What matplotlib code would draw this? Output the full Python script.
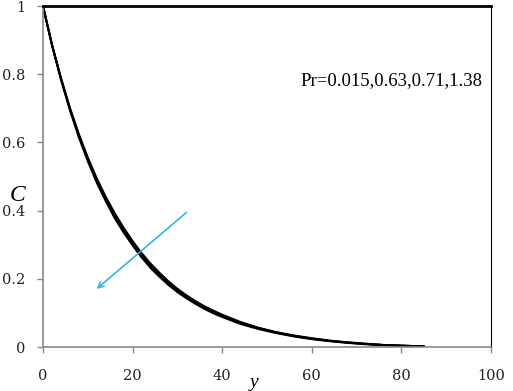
import matplotlib
matplotlib.use('Agg')
import matplotlib.pyplot as plt

# 四条浓度曲线
y_vals = [0, 2, 4, 6, 8, 10, 12, 14, 16, 18, 20, 22, 24, 26, 28, 30, 32, 34, 36, 38, 40,
          44, 48, 52, 56, 60, 64, 68, 72, 76, 80, 85]
c_pr1 = [1.0, 0.885, 0.785, 0.695, 0.615, 0.545, 0.482, 0.428, 0.378, 0.336, 0.298, 0.263, 0.232,
         0.206, 0.182, 0.161, 0.143, 0.127, 0.112, 0.099, 0.088, 0.068, 0.053, 0.041, 0.031, 0.023,
         0.017, 0.012, 0.008, 0.005, 0.003, 0.002]
c_pr2 = [1.0, 0.886, 0.787, 0.698, 0.619, 0.549, 0.487, 0.433, 0.384, 0.341, 0.303, 0.268, 0.237,
         0.210, 0.186, 0.165, 0.147, 0.130, 0.115, 0.102, 0.091, 0.070, 0.055, 0.042, 0.032, 0.024,
         0.018, 0.013, 0.009, 0.006, 0.004, 0.002]
c_pr3 = [1.0, 0.887, 0.788, 0.700, 0.622, 0.552, 0.490, 0.436, 0.388, 0.345, 0.307, 0.272, 0.241,
         0.214, 0.190, 0.168, 0.150, 0.133, 0.118, 0.105, 0.093, 0.072, 0.056, 0.043, 0.033, 0.025,
         0.018, 0.013, 0.009, 0.006, 0.004, 0.002]
c_pr4 = [1.0, 0.888, 0.790, 0.702, 0.625, 0.556, 0.495, 0.441, 0.393, 0.350, 0.311, 0.276, 0.245,
         0.218, 0.193, 0.171, 0.152, 0.135, 0.120, 0.107, 0.095, 0.074, 0.057, 0.044, 0.034, 0.026,
         0.019, 0.014, 0.010, 0.006, 0.004, 0.002]
curves = [c_pr1, c_pr2, c_pr3, c_pr4]

x_ticks = [0, 20, 40, 60, 80, 100]
y_ticks = [0, 0.2, 0.4, 0.6, 0.8, 1]
y_tick_labels = ['0', '0.2', '0.4', '0.6', '0.8', '1']

fig = plt.figure(figsize=(5.13, 3.91), dpi=100)
ax = fig.add_axes([0.0838, 0.1125, 0.873, 0.872])

for c in curves:
    ax.plot(y_vals, c, color='black', lw=1.4)

ax.set_xlim(0, 100)
ax.set_ylim(0, 1)
ax.set_xticks(x_ticks)
ax.set_xticklabels([str(t) for t in x_ticks])
ax.set_yticks(y_ticks)
ax.set_yticklabels(y_tick_labels)
ax.tick_params(direction='out', length=4, color='#888888', width=1,
               labelsize=10.5, labelcolor='#222222')
ax.tick_params(axis='x', pad=12)
ax.tick_params(axis='y', pad=9)
for lab in ax.get_xticklabels() + ax.get_yticklabels():
    lab.set_family('DejaVu Serif')

ax.spines['left'].set_color('#888888')
ax.spines['bottom'].set_color('#888888')
ax.spines['top'].set_color('black')
ax.spines['right'].set_color('black')
ax.spines['top'].set_linewidth(2)
ax.spines['left'].set_linewidth(1.2)
ax.spines['bottom'].set_linewidth(1.2)

# 箭头
ax.annotate('', xy=(11.5, 0.165), xytext=(32.5, 0.40),
            arrowprops=dict(arrowstyle='->', color='#33b5e5', lw=1.2))

ax.text(57.5, 0.78, 'Pr=0.015,0.63,0.71,1.38', fontsize=13.5,
        family='Liberation Serif', va='center')

fig.text(0.035, 0.5, 'C', fontsize=17, family='Liberation Serif', style='italic',
         va='center', ha='center')
fig.text(0.495, 0.022, 'y', fontsize=14, family='Liberation Serif', style='italic',
         va='center', ha='center')

plt.savefig('out.png', dpi=100)
